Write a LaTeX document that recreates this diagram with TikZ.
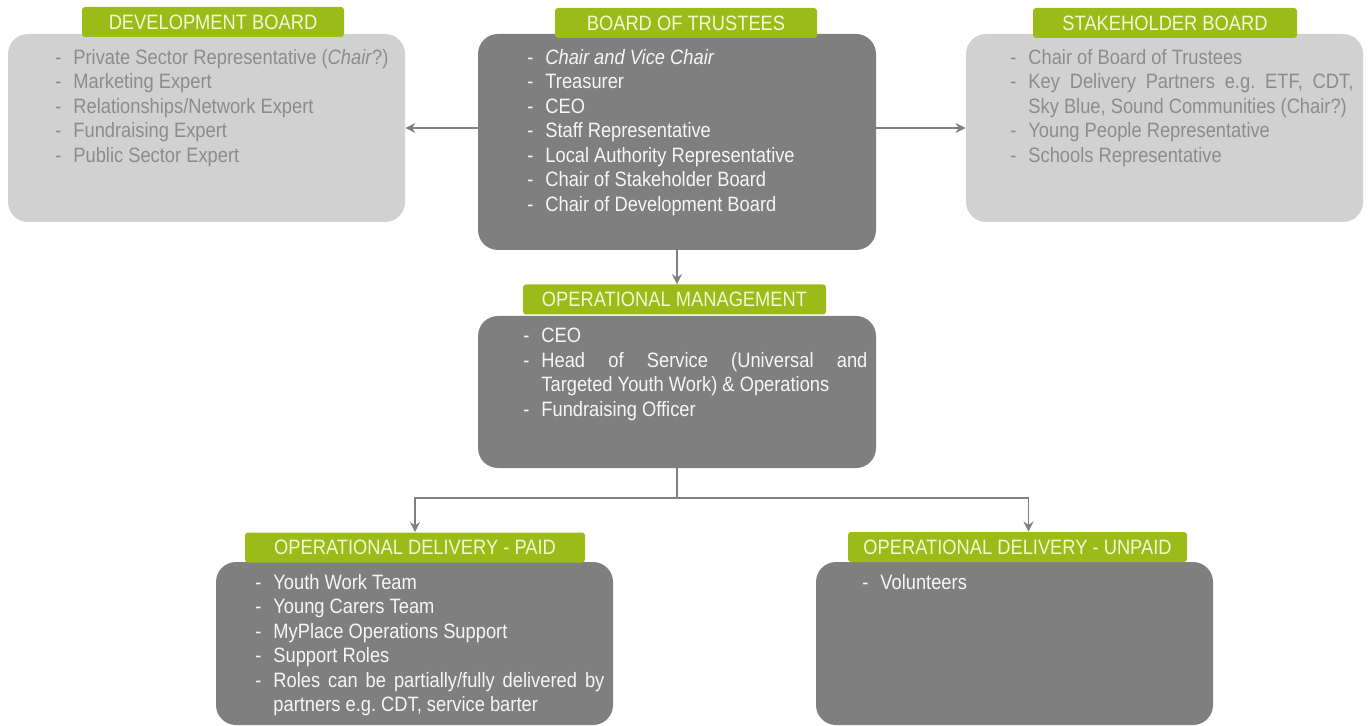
\documentclass[tikz,border=0pt]{standalone}
\usepackage{fontspec}
\setmainfont{Liberation Sans}[FakeStretch=0.88]
\usepackage{xcolor}
\usepackage{tikz}
\usetikzlibrary{arrows.meta, positioning}
\frenchspacing
\definecolor{labgreen}{RGB}{155,187,25}
\definecolor{labtext}{RGB}{243,247,212}
\definecolor{boxdark}{RGB}{127,127,127}
\definecolor{boxlight}{RGB}{209,209,209}
\definecolor{textlight}{RGB}{140,140,140}
\definecolor{textdark}{RGB}{246,246,246}
\definecolor{linegray}{RGB}{128,128,128}
\newcommand{\ditem}[1]{\hangindent=9pt\hangafter=1\noindent\makebox[9pt][l]{-}#1\par}
\tikzstyle{darkbox} = [rectangle, rounded corners=10pt, fill=boxdark, inner sep=0pt]
\tikzstyle{lightbox} = [rectangle, rounded corners=10pt, fill=boxlight, inner sep=0pt]
\tikzstyle{title} = [rectangle, rounded corners=1.5pt, fill=labgreen, text=labtext, inner sep=0pt, minimum height=15pt, font=\fontsize{10.4}{12.25}\selectfont]
\tikzstyle{members} = [anchor=north west, inner sep=0pt, align=justify, font=\fontsize{10.4}{12.25}\selectfont]
\tikzstyle{arrow} = [line width=0.9pt, draw=linegray, -{Stealth[length=5pt,width=5pt]}]
\tikzstyle{line} = [line width=0.9pt, draw=linegray]

\begin{document}
\begin{tikzpicture}[x=0.5pt, y=-0.5pt]
    \useasboundingbox (0,0) rectangle (1368,726);

    % Boards
    \node[lightbox, minimum width=198.5pt, minimum height=94pt] (devbox) at (206.5,128) {};
    \node[darkbox, minimum width=199pt, minimum height=108pt] (trustees) at (677,142) {};
    \node[lightbox, minimum width=198.5pt, minimum height=94pt] (stakebox) at (1164.5,128) {};

    % Management and delivery
    \node[darkbox, minimum width=199pt, minimum height=76pt] (opm) at (677,392) {};
    \node[darkbox, minimum width=198.5pt, minimum height=81.5pt] (paid) at (414.5,643.5) {};
    \node[darkbox, minimum width=198.5pt, minimum height=81.5pt] (unpaid) at (1014.5,643.5) {};

    % Titles
    \node[title, minimum width=131pt] (devtitle) at (213,22) {DEVELOPMENT BOARD};
    \node[title, minimum width=131pt] (trusteestitle) at (686,23) {BOARD OF TRUSTEES};
    \node[title, minimum width=132pt] (staketitle) at (1165,23) {STAKEHOLDER BOARD};
    \node[title, minimum width=151.5pt] (opmtitle) at (674.5,299.5) {OPERATIONAL MANAGEMENT};
    \node[title, minimum width=170pt] (paidtitle) at (415,547.5) {OPERATIONAL DELIVERY - PAID};
    \node[title, minimum width=169.5pt] (unpaidtitle) at (1017.5,547) {OPERATIONAL DELIVERY - UNPAID};

    % Members
    \node[members, text=textlight, text width=170pt] (devlist) at (55,49) {%
        \ditem{Private Sector Representative (\textit{Chair}?)}
        \ditem{Marketing Expert}
        \ditem{Relationships/Network Expert}
        \ditem{Fundraising Expert}
        \ditem{Public Sector Expert}};
    \node[members, text=textdark, text width=169.5pt] (trusteeslist) at (527,49) {%
        \ditem{\textit{Chair and Vice Chair}}
        \ditem{Treasurer}
        \ditem{CEO}
        \ditem{Staff Representative}
        \ditem{Local Authority Representative}
        \ditem{Chair of Stakeholder Board}
        \ditem{Chair of Development Board}};
    \node[members, text=textlight, text width=171.5pt] (stakelist) at (1010,49) {%
        \ditem{Chair of Board of Trustees}
        \ditem{Key Delivery Partners e.g. ETF, CDT,\linebreak Sky Blue, Sound Communities (Chair?)}
        \ditem{Young People Representative}
        \ditem{Schools Representative}};
    \node[members, text=textdark, text width=172pt] (opmlist) at (523,328) {%
        \ditem{CEO}
        \ditem{Head of Service (Universal and\linebreak Targeted Youth Work) \& Operations}
        \ditem{Fundraising Officer}};
    \node[members, text=textdark, text width=174.5pt] (paidlist) at (255,574) {%
        \ditem{Youth Work Team}
        \ditem{Young Carers Team}
        \ditem{MyPlace Operations Support}
        \ditem{Support Roles}
        \ditem{Roles can be partially/fully delivered by\linebreak partners e.g. CDT, service barter}};
    \node[members, text=textdark, text width=150pt] (unpaidlist) at (862,574) {%
        \ditem{Volunteers}};

    % Connections
    \draw[arrow] (trustees.west |- devbox.east) -- (devbox.east);
    \draw[arrow] (trustees.east |- stakebox.west) -- (stakebox.west);
    \draw[arrow] (trustees.south) -- (trustees.south |- opmtitle.north);
    \coordinate (split) at (677,498);
    \draw[line] (opm.south) -- (split);
    \draw[arrow] (split) -| (paidtitle.north);
    \draw[arrow] (split) -| ([xshift=5.5pt]unpaidtitle.north);
\end{tikzpicture}
\end{document}
